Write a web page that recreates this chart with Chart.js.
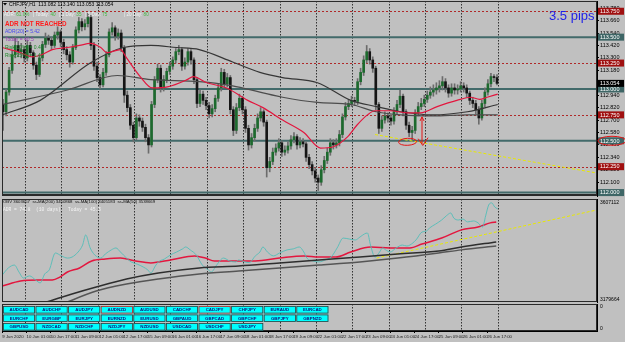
<!DOCTYPE html>
<html>
<head>
<meta charset="utf-8">
<script src="https://cdn.jsdelivr.net/npm/chart.js@4.4.1/dist/chart.umd.min.js"></script>
<style>
  body { margin:0; background:#c0c0c0; width:625px; height:342px; overflow:hidden; position:relative; }
  canvas { position:absolute; left:0; }
  #main { top:0; }
  #obv { top:198px; }
  #pad { top:304px; }
</style>
</head>
<body>
<canvas id="main" width="625" height="198"></canvas>
<canvas id="obv" width="625" height="106"></canvas>
<canvas id="pad" width="625" height="38"></canvas>
<script>
// CHFJPY, 2-hour candles (x unit = hours since 9 Jun 09:00)
var candleOpen = [
112.85,112.78,112.97,113.18,113.33,113.42,113.36,113.38,113.30,113.42,
113.35,113.23,113.14,113.30,113.43,113.49,113.47,113.42,113.52,113.55,
113.45,113.38,113.33,113.26,113.40,113.57,113.65,113.60,113.63,113.69,
113.42,113.22,113.11,113.04,113.16,113.33,113.55,113.59,113.51,113.54,
113.40,112.94,112.82,112.65,112.53,112.72,112.69,112.63,112.53,112.46,
112.85,113.09,113.20,113.01,113.09,113.17,113.22,113.28,113.36,113.38,
113.22,113.26,113.36,113.28,113.09,112.86,112.95,112.89,112.84,112.76,
112.81,112.91,113.01,113.16,113.05,113.11,112.80,112.60,112.82,112.91,
112.80,112.62,112.46,112.53,112.62,112.72,112.78,112.68,112.24,112.30,
112.39,112.43,112.48,112.39,112.41,112.45,112.51,112.54,112.46,112.49,
112.47,112.34,112.27,112.21,112.14,112.10,112.22,112.31,112.39,112.48,
112.46,112.48,112.56,112.73,112.83,112.86,112.89,112.88,113.07,113.16,
113.28,113.36,113.28,113.20,112.85,112.62,112.70,112.74,112.72,112.69,
112.78,112.85,112.93,112.78,112.65,112.58,112.60,112.77,112.83,112.86,
112.90,112.94,112.97,112.99,113.01,113.03,113.07,113.01,112.96,113.01,
112.99,113.00,113.03,113.01,112.96,112.89,112.86,112.80,112.72,112.86,
112.97,113.05,113.12,113.11];
var candleHigh = [
112.90,113.00,113.21,113.37,113.50,113.46,113.44,113.41,113.47,113.45,
113.37,113.26,113.33,113.46,113.54,113.52,113.50,113.55,113.60,113.57,
113.48,113.41,113.36,113.43,113.60,113.69,113.68,113.67,113.73,113.71,
113.45,113.26,113.14,113.20,113.36,113.58,113.64,113.61,113.58,113.57,
113.42,112.98,112.85,112.68,112.76,112.75,112.72,112.66,112.56,112.88,
113.12,113.24,113.23,113.13,113.20,113.26,113.31,113.39,113.42,113.40,
113.30,113.39,113.38,113.30,113.11,112.99,112.98,112.92,112.87,112.85,
112.94,113.05,113.20,113.19,113.15,113.13,112.83,112.86,112.95,112.93,
112.83,112.65,112.57,112.66,112.76,112.82,112.80,112.70,112.34,112.43,
112.47,112.52,112.50,112.45,112.49,112.55,112.58,112.56,112.53,112.52,
112.49,112.37,112.30,112.24,112.17,112.26,112.35,112.43,112.52,112.51,
112.52,112.60,112.76,112.87,112.90,112.93,112.92,113.10,113.20,113.32,
113.42,113.39,113.31,113.22,112.87,112.74,112.78,112.77,112.75,112.82,
112.89,112.99,112.95,112.80,112.68,112.64,112.80,112.87,112.91,112.94,
112.98,113.02,113.04,113.06,113.08,113.12,113.10,113.04,113.05,113.05,
113.04,113.07,113.06,113.04,112.98,112.92,112.89,112.83,112.89,113.01,
113.09,113.15,113.14,113.14];
var candleLow = [
112.60,112.74,112.94,113.15,113.30,113.31,113.30,113.26,113.27,113.31,
113.19,113.09,113.12,113.27,113.40,113.43,113.38,113.40,113.48,113.41,
113.34,113.28,113.21,113.24,113.38,113.54,113.56,113.57,113.60,113.38,
113.18,113.07,113.00,113.02,113.13,113.31,113.52,113.47,113.48,113.36,
112.87,112.78,112.61,112.49,112.51,112.64,112.59,112.49,112.38,112.44,
112.82,113.06,112.97,112.98,113.06,113.14,113.19,113.25,113.33,113.18,
113.19,113.23,113.24,113.05,112.82,112.83,112.85,112.80,112.72,112.73,
112.78,112.88,112.98,113.01,113.02,112.76,112.55,112.57,112.79,112.76,
112.58,112.41,112.43,112.50,112.59,112.69,112.64,112.15,112.20,112.27,
112.36,112.40,112.35,112.36,112.38,112.42,112.48,112.42,112.43,112.44,
112.30,112.23,112.17,112.10,112.02,112.07,112.19,112.28,112.36,112.42,
112.43,112.45,112.53,112.70,112.80,112.83,112.84,112.85,113.04,113.13,
113.25,113.24,113.16,112.80,112.57,112.59,112.67,112.68,112.65,112.66,
112.75,112.82,112.74,112.61,112.54,112.51,112.57,112.74,112.80,112.83,
112.87,112.91,112.93,112.95,112.97,112.99,112.97,112.92,112.93,112.95,
112.95,112.97,112.97,112.92,112.85,112.82,112.76,112.66,112.70,112.83,
112.94,113.02,113.07,113.04];
var candleClose = [
112.78,112.97,113.18,113.33,113.42,113.36,113.38,113.30,113.42,113.35,
113.23,113.14,113.30,113.43,113.49,113.47,113.42,113.52,113.55,113.45,
113.38,113.33,113.26,113.40,113.57,113.65,113.60,113.63,113.69,113.42,
113.22,113.11,113.04,113.16,113.33,113.55,113.59,113.51,113.54,113.40,
112.94,112.82,112.65,112.53,112.72,112.69,112.63,112.53,112.46,112.85,
113.09,113.20,113.01,113.09,113.17,113.22,113.28,113.36,113.38,113.22,
113.26,113.36,113.28,113.09,112.86,112.95,112.89,112.84,112.76,112.81,
112.91,113.01,113.16,113.05,113.11,112.80,112.60,112.82,112.91,112.80,
112.62,112.46,112.53,112.62,112.72,112.78,112.68,112.24,112.30,112.39,
112.43,112.48,112.39,112.41,112.45,112.51,112.54,112.46,112.49,112.47,
112.34,112.27,112.21,112.14,112.10,112.22,112.31,112.39,112.48,112.46,
112.48,112.56,112.73,112.83,112.86,112.89,112.88,113.07,113.16,113.28,
113.36,113.28,113.20,112.85,112.62,112.70,112.74,112.72,112.69,112.78,
112.85,112.93,112.78,112.65,112.58,112.60,112.77,112.83,112.86,112.90,
112.94,112.97,112.99,113.01,113.03,113.07,113.01,112.96,113.01,112.99,
113.00,113.03,113.01,112.96,112.89,112.86,112.80,112.72,112.86,112.97,
113.05,113.12,113.11,113.054];

// moving averages on the price chart
var maRedHours = [0,5,12,20,26,33,43,51,58,65,69,78,82,91,99,109,122,126,135,148,162,172,185,199,210,218,228,234,241,246,256,267,276,287,300,309,315,320,327];
var maRedVals = [113.40,113.38,113.35,113.31,113.33,113.38,113.40,113.42,113.44,113.40,113.35,113.38,113.30,113.12,113.01,113.02,113.09,113.12,113.06,113.01,112.89,112.82,112.70,112.58,112.43,112.44,112.54,112.65,112.75,112.79,112.79,112.77,112.77,112.83,112.89,112.92,112.90,112.92,112.95];
var maSlowHours = [0,25,58,80,98,115,130,152,170,185,208,230,247,263,284,307,327];
var maSlowVals = [112.75,112.89,113.25,113.40,113.42,113.40,113.38,113.26,113.16,113.11,113.06,112.89,112.83,112.78,112.75,112.78,112.85];
var maMidHours = [0,43,76,98,130,152,170,185,208,230,247,263,284,307,327];
var maMidVals = [112.85,112.99,113.13,113.09,113.07,113.03,112.97,112.92,112.87,112.85,112.78,112.75,112.74,112.75,112.75];
var trendHours = [246,392];
var trendPrices = [112.56,112.19];

var redLevels = [113.75,113.25,112.75,112.25];
var tealLevels = [113.50,113.00,112.50,112.00];
var priceTicks = [113.78,113.66,113.54,113.42,113.30,113.18,113.06,112.94,112.82,112.70,112.58,112.46,112.34,112.22,112.10,111.98];

// OBV window
var obvHours = [0,4,8,11,14,18,22,25,28,31,35,39,43,46,50,53,55,58,61,65,68,72,75,78,82,85,89,93,96,98,101,103,107,111,115,119,121,124,128,132,136,138,141,146,150,154,156,160,163,167,170,172,175,179,183,188,192,196,199,201,205,209,213,217,221,225,229,233,236,239,241,243,246,249,251,253,256,260,264,267,269,273,277,280,282,286,290,293,296,298,301,304,307,311,314,317,319,321,323,325,327];
var obvVals = [
3292000,3321000,3333000,3304000,3279000,3288000,3271000,3259000,3296000,3313000,
3383000,3371000,3362000,3366000,3387000,3416000,3458000,3404000,3375000,3362000,
3379000,3396000,3404000,3387000,3362000,3346000,3337000,3325000,3313000,3300000,
3329000,3346000,3358000,3375000,3387000,3400000,3408000,3396000,3375000,3333000,
3313000,3304000,3329000,3362000,3350000,3346000,3354000,3346000,3343000,3371000,
3387000,3408000,3387000,3371000,3383000,3396000,3400000,3408000,3387000,3362000,
3350000,3346000,3354000,3366000,3404000,3445000,3441000,3437000,3449000,3462000,
3466000,3416000,3366000,3387000,3404000,3396000,3387000,3404000,3416000,3412000,
3416000,3437000,3470000,3474000,3487000,3503000,3520000,3537000,3549000,3528000,
3520000,3524000,3512000,3516000,3508000,3491000,3537000,3582000,3591000,3574000,
3566000];
var obvMa50Hours = [0,12,24,33,38,43,51,59,68,78,88,98,111,127,134,140,154,167,183,199,209,220,230,243,256,269,277,290,303,314,322,326];
var obvMa50Vals = [3246000,3267000,3271000,3271000,3283000,3304000,3321000,3350000,3358000,3362000,3350000,3342000,3354000,3371000,3362000,3350000,3350000,3350000,3362000,3371000,3366000,3366000,3387000,3408000,3404000,3404000,3420000,3445000,3479000,3491000,3508000,3512000];
var obvMa100Hours = [25,46,62,82,103,130,156,183,209,236,261,288,303,326];
var obvMa100Vals = [3171000,3213000,3242000,3275000,3300000,3321000,3329000,3342000,3354000,3366000,3379000,3391000,3408000,3429000];
var obvMa200Hours = [38,62,82,103,130,156,183,209,236,261,288,303,326];
var obvMa200Vals = [3167000,3225000,3254000,3275000,3296000,3308000,3321000,3333000,3346000,3362000,3383000,3396000,3412000];
var obvTrendHours = [247,392];
var obvTrendVals = [3362000,3561000];
var obvMin = 3179664, obvMax = 3607112;

// time axis
var dayStarts = [15,39,63,87,111,135,159,183,207,231,255,279,303,327];
var timeTicks = [0,16,32,48,64,80,96,112,128,144,160,176,192,208,224,240,256,272,288,304,320];
var timeLabels = ['9 Jun 2020','10 Jun 01:00','10 Jun 17:00','11 Jun 09:00','12 Jun 01:00','12 Jun 17:00','15 Jun 09:00','16 Jun 01:00','16 Jun 17:00','17 Jun 09:00','18 Jun 01:00','18 Jun 17:00','19 Jun 09:00','22 Jun 01:00','22 Jun 17:00','23 Jun 09:00','24 Jun 01:00','24 Jun 17:00','25 Jun 09:00','26 Jun 01:00','26 Jun 17:00'];

var pairRows = [
  ['AUDCAD','AUDCHF','AUDJPY','AUDNZD','AUDUSD','CADCHF','CADJPY','CHFJPY','EURAUD','EURCAD'],
  ['EURCHF','EURGBP','EURJPY','EURNZD','EURUSD','GBPAUD','GBPCAD','GBPCHF','GBPJPY','GBPNZD'],
  ['GBPUSD','NZDCAD','NZDCHF','NZDJPY','NZDUSD','USDCAD','USDCHF','USDJPY']
];
var redPairs = ['AUDNZD','CADJPY'];

// hand drawn marks (hour, price)
var noteEllipse = [267.5, 112.49];
var noteArrow = [277, 112.73, 112.47];
var noteCheck = [[274.5,112.52],[277.5,112.455],[281,112.53]];

Chart.defaults.font.family = '"Liberation Sans", Arial, sans-serif';

var candleHours = candleClose.map(function(_, i){ return 2 * i + 0.5; });

function xAxis(show) {
  return {
    type: 'linear', min: -0.2, max: 392.5, offset: false, display: show,
    grid: { display: show, drawOnChartArea: false, tickLength: 2, color: '#000' },
    border: { color: '#000' },
    afterFit: function(s){ if (show) s.height = 11; s.paddingLeft = 0; s.paddingRight = 0; },
    afterBuildTicks: function(s){ s.ticks = timeTicks.map(function(v){ return {value: v}; }); },
    ticks: { autoSkip: false, maxRotation: 0, align: 'start', padding: 1, color: '#1a1a1a',
      font: { size: 4.3 }, callback: function(v, i){ return timeLabels[i]; } }
  };
}
function rightAxis(min, max, withTicks) {
  return {
    position: 'right', min: min, max: max,
    afterFit: function(s){ s.width = 28; s.paddingTop = 0; s.paddingBottom = 0; },
    afterBuildTicks: function(s){ if (withTicks) s.ticks = priceTicks.map(function(v){ return {value: v}; }); },
    ticks: { display: withTicks, color: '#000', padding: 1, font: { size: 5.5 },
      callback: function(v){ return Number(v).toFixed(3); } },
    grid: { drawOnChartArea: false, drawTicks: withTicks, tickLength: 2, color: '#000' },
    border: { color: '#000' }
  };
}
function line(hours, vals, color, width, dash) {
  return { type: 'line', data: hours.map(function(h, i){ return {x: h, y: vals[i]}; }),
    borderColor: color, borderWidth: width, borderDash: dash || [], pointRadius: 0,
    cubicInterpolationMode: 'monotone', order: 0 };
}

function separators(chart) {
  var ctx = chart.ctx, a = chart.chartArea, x = chart.scales.x;
  ctx.save();
  ctx.strokeStyle = '#333'; ctx.lineWidth = 1; ctx.setLineDash([1.5, 1.5]);
  dayStarts.forEach(function(h){
    var px = Math.round(x.getPixelForValue(h)) + 0.5;
    ctx.beginPath(); ctx.moveTo(px, a.top); ctx.lineTo(px, a.bottom); ctx.stroke();
  });
  ctx.restore();
}
function frame(chart, bottomWidth) {
  var ctx = chart.ctx, a = chart.chartArea;
  ctx.save();
  ctx.strokeStyle = '#2a2a2a'; ctx.lineWidth = 1;
  ctx.strokeRect(a.left + 0.5, a.top + 0.5, a.right - a.left - 1, a.bottom - a.top - 1);
  if (bottomWidth) { ctx.fillStyle = '#2a2a2a'; ctx.fillRect(a.left, a.bottom - bottomWidth, a.right - a.left, bottomWidth); }
  ctx.restore();
}
function segs(ctx, x, y, parts) {
  parts.forEach(function(p){ ctx.fillStyle = p[1]; ctx.fillText(p[0], x, y); x += ctx.measureText(p[0]).width; });
}
function axisBox(chart, price, fill, text) {
  var ctx = chart.ctx, a = chart.chartArea, py = chart.scales.y.getPixelForValue(price);
  ctx.fillStyle = fill; ctx.fillRect(a.right + 1, py - 3.5, chart.width - a.right - 2, 7);
  ctx.fillStyle = '#fff'; ctx.font = '5.5px "Liberation Sans"'; ctx.textBaseline = 'middle'; ctx.textAlign = 'left';
  ctx.fillText(text, a.right + 3, py + 0.3);
}

var mainDecor = {
  id: 'mainDecor',
  beforeDatasetsDraw: function(chart) {
    var ctx = chart.ctx, a = chart.chartArea, y = chart.scales.y;
    separators(chart);
    ctx.save();
    ctx.beginPath(); ctx.rect(a.left, a.top, a.right - a.left, a.bottom - a.top); ctx.clip();
    ctx.strokeStyle = '#426a6a'; ctx.lineWidth = 2;
    tealLevels.forEach(function(p){ var py = y.getPixelForValue(p); ctx.beginPath(); ctx.moveTo(a.left, py); ctx.lineTo(a.right, py); ctx.stroke(); });
    ctx.strokeStyle = '#b02828'; ctx.lineWidth = 1; ctx.setLineDash([2, 2]);
    redLevels.forEach(function(p){ var py = Math.round(y.getPixelForValue(p)) + 0.5; ctx.beginPath(); ctx.moveTo(a.left, py); ctx.lineTo(a.right, py); ctx.stroke(); });
    ctx.restore();
  },
  afterDatasetsDraw: function(chart) {
    var ctx = chart.ctx, x = chart.scales.x, y = chart.scales.y;
    ctx.save();
    ctx.strokeStyle = '#e41414'; ctx.lineWidth = 1;
    ctx.beginPath(); ctx.ellipse(x.getPixelForValue(noteEllipse[0]), y.getPixelForValue(noteEllipse[1]), 9, 3.5, -0.05, 0, Math.PI * 2); ctx.stroke();
    var ax = x.getPixelForValue(noteArrow[0]), a1 = y.getPixelForValue(noteArrow[1]), a2 = y.getPixelForValue(noteArrow[2]);
    ctx.beginPath(); ctx.moveTo(ax, a1); ctx.lineTo(ax, a2); ctx.stroke();
    ctx.beginPath(); ctx.moveTo(ax - 2, a1 + 4); ctx.lineTo(ax, a1); ctx.lineTo(ax + 2, a1 + 4); ctx.stroke();
    ctx.beginPath();
    noteCheck.forEach(function(p, i){ var px = x.getPixelForValue(p[0]), py = y.getPixelForValue(p[1]); if (i) ctx.lineTo(px, py); else ctx.moveTo(px, py); });
    ctx.stroke();
    ctx.restore();
  },
  afterDraw: function(chart) {
    var ctx = chart.ctx, a = chart.chartArea;
    frame(chart, 2);
    ctx.save();
    redLevels.forEach(function(p){ axisBox(chart, p, '#a01010', p.toFixed(3)); });
    tealLevels.forEach(function(p){ axisBox(chart, p, '#3e6666', p.toFixed(3)); });
    var last = candleClose[candleClose.length - 1];
    axisBox(chart, last, '#000', last.toFixed(3));
    ctx.strokeStyle = '#e41414'; ctx.lineWidth = 1;
    ctx.beginPath(); ctx.ellipse(a.right + 15, chart.scales.y.getPixelForValue(112.5), 14, 4.5, 0, 0, Math.PI * 2); ctx.stroke();

    ctx.textAlign = 'left'; ctx.textBaseline = 'middle';
    ctx.fillStyle = '#000';
    ctx.beginPath(); ctx.moveTo(3, 3); ctx.lineTo(7, 3); ctx.lineTo(5, 5.5); ctx.closePath(); ctx.fill();
    ctx.font = '5px "Liberation Sans"';
    ctx.fillText('CHFJPY,H1  113.082 113.140 113.053 113.054', 9, 4.5);
    ctx.font = '4.6px "Liberation Sans"';
    segs(ctx, 4, 15, [['ADR: ', '#f2f2f2'], ['61.0%', '#46b846'], ['   | Today: ', '#f2f2f2'], ['40', '#46b846'],
      ['   | 1 Day: ', '#f2f2f2'], ['35', '#46b846'], ['   | 5 Day: ', '#f2f2f2'], ['75', '#46b846'],
      ['             | 20 Day: ', '#f2f2f2'], ['80', '#46b846']]);
    ctx.font = 'bold 6.3px "Liberation Sans"'; ctx.fillStyle = '#ff1c1c';
    ctx.fillText('ADR NOT REACHED', 5, 24);
    ctx.font = '5px "Liberation Sans"';
    ctx.fillStyle = '#4646f0'; ctx.fillText('ADR(20) = 5.42', 5, 32);
    ctx.fillStyle = '#9a3cb4'; ctx.fillText('Today = 40.5', 5, 40);
    ctx.fillStyle = '#1f8a2a'; ctx.fillText('Risk(10%) = 0.4', 5, 48);
    ctx.fillText('Risk(25%) = 1.4', 5, 56);
    ctx.font = '13px "Liberation Sans"'; ctx.fillStyle = '#1e1ee8'; ctx.textBaseline = 'alphabetic';
    ctx.fillText('3.5 pips', 549, 20);
    ctx.restore();
  }
};

var obvDecor = {
  id: 'obvDecor',
  beforeDatasetsDraw: function(chart) { separators(chart); },
  afterDraw: function(chart) {
    var ctx = chart.ctx, a = chart.chartArea;
    frame(chart, 0);
    ctx.save();
    ctx.textAlign = 'left'; ctx.textBaseline = 'middle';
    ctx.font = '4.3px "Liberation Sans"'; ctx.fillStyle = '#111';
    ctx.fillText('OBV 3603657  ss-MA(200) 3450868  ss-MA(100) 3405183  ss-MA(50) 3538669', 3, 4);
    ctx.font = '4.6px "Liberation Mono", monospace'; ctx.fillStyle = '#f4f4f4';
    ctx.fillText('ADR = 74.8', 3, 12);
    ctx.fillText('(10 days)', 36, 12);
    ctx.fillText('Today = 45.5', 68, 12);
    ctx.font = '5px "Liberation Sans"'; ctx.fillStyle = '#000';
    ctx.fillText(String(obvMax), a.right + 3, a.top + 4);
    ctx.fillText(String(obvMin), a.right + 3, a.bottom - 2);
    ctx.restore();
  }
};

var padDecor = {
  id: 'padDecor',
  beforeDraw: function(chart) { separators(chart); },
  afterDraw: function(chart) {
    var ctx = chart.ctx, a = chart.chartArea;
    frame(chart, 0);
    ctx.save();
    ctx.textAlign = 'center'; ctx.textBaseline = 'middle';
    ctx.font = 'bold 4.4px "Liberation Sans"';
    pairRows.forEach(function(row, r){
      row.forEach(function(name, c){
        var bx = a.left + 1 + c * 32.6, by = a.top + 2 + r * 8.5;
        ctx.fillStyle = '#00ffff'; ctx.fillRect(bx, by, 32, 7.5);
        ctx.strokeStyle = redPairs.indexOf(name) >= 0 ? '#d01818' : '#3a3a3a'; ctx.lineWidth = 0.8;
        ctx.strokeRect(bx + 0.4, by + 0.4, 31.2, 6.7);
        ctx.fillStyle = '#10107a'; ctx.fillText(name, bx + 16, by + 4);
      });
    });
    ctx.textAlign = 'left'; ctx.font = '5px "Liberation Sans"'; ctx.fillStyle = '#000';
    ctx.fillText('0', a.right + 3, a.top + 3);
    ctx.fillText('0', a.right + 3, a.bottom - 2);
    ctx.restore();
  }
};

var baseOpts = function(padBottom, xShow) {
  return {
    responsive: false, animation: false, events: [],
    layout: { padding: { left: 2, top: xShow ? 0 : 1, bottom: padBottom, right: 0 } },
    plugins: { legend: { display: false }, tooltip: { enabled: false } }
  };
};

var mainOpts = baseOpts(2, false);
mainOpts.scales = { x: xAxis(false), y: rightAxis(111.967, 113.849, true) };
new Chart(document.getElementById('main'), {
  type: 'bar',
  data: { datasets: [
    line(maRedHours, maRedVals, '#e3163e', 1.2),
    line(maSlowHours, maSlowVals, '#363636', 1.2),
    line(maMidHours, maMidVals, '#4c4c4c', 1.2),
    line(trendHours, trendPrices, '#e8e800', 1, [3, 2]),
    { type: 'bar', order: 1, grouped: false, barThickness: 2, minBarLength: 1,
      data: candleClose.map(function(c, i){ return {x: candleHours[i], y: [candleOpen[i], c]}; }),
      backgroundColor: candleClose.map(function(c, i){ return c >= candleOpen[i] ? '#1d6a2e' : '#151515'; }) },
    { type: 'bar', order: 2, grouped: false, barThickness: 1,
      data: candleClose.map(function(c, i){ return {x: candleHours[i], y: [candleLow[i], candleHigh[i]]}; }),
      backgroundColor: '#6c6c6c' }
  ] },
  options: mainOpts,
  plugins: [mainDecor]
});

var obvOpts = baseOpts(2, false);
obvOpts.scales = { x: xAxis(false), y: rightAxis(obvMin, obvMax, false) };
new Chart(document.getElementById('obv'), {
  type: 'line',
  data: { datasets: [
    line(obvMa200Hours, obvMa200Vals, '#555', 1.5),
    line(obvMa100Hours, obvMa100Vals, '#2e2e2e', 1.5),
    line(obvHours, obvVals, '#52bdb8', 0.9),
    line(obvMa50Hours, obvMa50Vals, '#e3163e', 1.5),
    line(obvTrendHours, obvTrendVals, '#e8e800', 1, [3, 2])
  ] },
  options: obvOpts,
  plugins: [obvDecor]
});

var padOpts = baseOpts(0, true);
padOpts.scales = { x: xAxis(true), y: rightAxis(0, 1, false) };
new Chart(document.getElementById('pad'), {
  type: 'line',
  data: { datasets: [] },
  options: padOpts,
  plugins: [padDecor]
});
</script>
</body>
</html>
